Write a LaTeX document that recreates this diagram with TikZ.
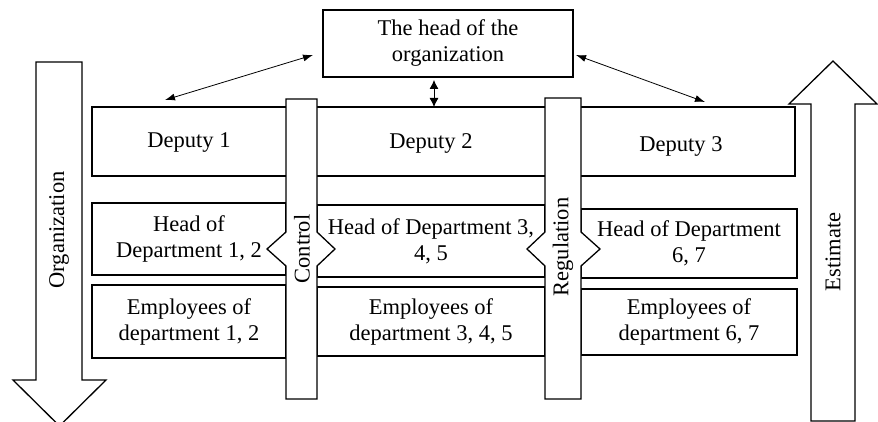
\documentclass[tikz,border=0pt]{standalone}
\usepackage{fontspec}
\setmainfont{Liberation Serif}
\newfontfamily\tnr{Liberation Serif}
\usetikzlibrary{arrows.meta}
\begin{document}
\begin{tikzpicture}[x=1pt,y=-1pt,
  every node/.style={font=\tnr\fontsize{22.5}{26}\selectfont},
  box/.style={draw, line width=1.3pt, fill=white, inner sep=1pt, align=center},
  txt/.style={inner sep=0pt, align=center},
  bar/.style={draw, line width=1.3pt, fill=white, line join=miter},
  conn/.style={line width=0.8pt, {Latex[length=10pt,width=7pt]}-{Latex[length=10pt,width=7pt]}}
]
\useasboundingbox (0,0) rectangle (878,422);
\clip (0,0) rectangle (878,422);

% top box
\node[box, minimum width=250pt, minimum height=67pt] (top) at (448,43.5) {The head of the\\organization};

% deputy row
\node[box, minimum width=703pt, minimum height=69pt] (dep) at (443.5,141.5) {};
\node[txt] (d1) at (189,143) {Deputy 1};
\node[txt] (d2) at (431,143) {Deputy 2};
\node[txt] (d3) at (681,146) {Deputy 3};

% head row
\node[box, minimum width=194pt, minimum height=72pt] (hL) at (189,239) {Head of\\Department 1, 2};
\node[box, minimum width=228pt, minimum height=72pt] (hM) at (431,241) {Head of Department 3,\\4, 5};
\node[box, minimum width=216pt, minimum height=69pt] (hR) at (689,243.5) {Head of Department\\6, 7};

% employees row
\node[box, minimum width=194pt, minimum height=73pt] (eL) at (189,321.5) {Employees of\\department 1, 2};
\node[box, minimum width=228pt, minimum height=69pt] (eM) at (431,321.5) {Employees of\\department 3, 4, 5};
\node[box, minimum width=216pt, minimum height=66pt] (eR) at (689,322) {Employees of\\department 6, 7};

% control bar
\draw[bar] (286,99) -- (317,99) -- (317,232) -- (335,249) -- (317,266) -- (317,399)
  -- (286,399) -- (286,266) -- (267,249) -- (286,232) -- cycle;
\node[txt, rotate=90] (ctl) at (302,249) {Control};

% regulation bar
\draw[bar] (545,98) -- (581,98) -- (581,232) -- (600,249) -- (581,266) -- (581,399)
  -- (545,399) -- (545,266) -- (527,249) -- (545,232) -- cycle;
\node[txt, rotate=90] (reg) at (563,247) {Regulation};

% organization arrow (down)
\draw[bar] (36,62) -- (82,62) -- (82,380) -- (106,380) -- (59.5,426) -- (13,380) -- (36,380) -- cycle;
\node[txt, rotate=90] (org) at (59,230) {Organization};

% estimate arrow (up)
\draw[bar] (811,421) -- (811,104) -- (789,104) -- (833,61) -- (877,104) -- (855,104) -- (855,421) -- cycle;
\node[txt, rotate=90] (est) at (833,252) {Estimate};

% connectors
\coordinate (tL) at (313,55);
\coordinate (dL) at (165,100);
\coordinate (tR) at (576,55);
\coordinate (dR) at (705,102);
\coordinate (tM) at (434,80);
\coordinate (dM) at (434,107);
\draw[conn] (tL) -- (dL);
\draw[conn] (tR) -- (dR);
\draw[line width=0.8pt, {Latex[length=9pt,width=9pt]}-{Latex[length=9pt,width=9pt]}] (tM) -- (dM);
\end{tikzpicture}
\end{document}
